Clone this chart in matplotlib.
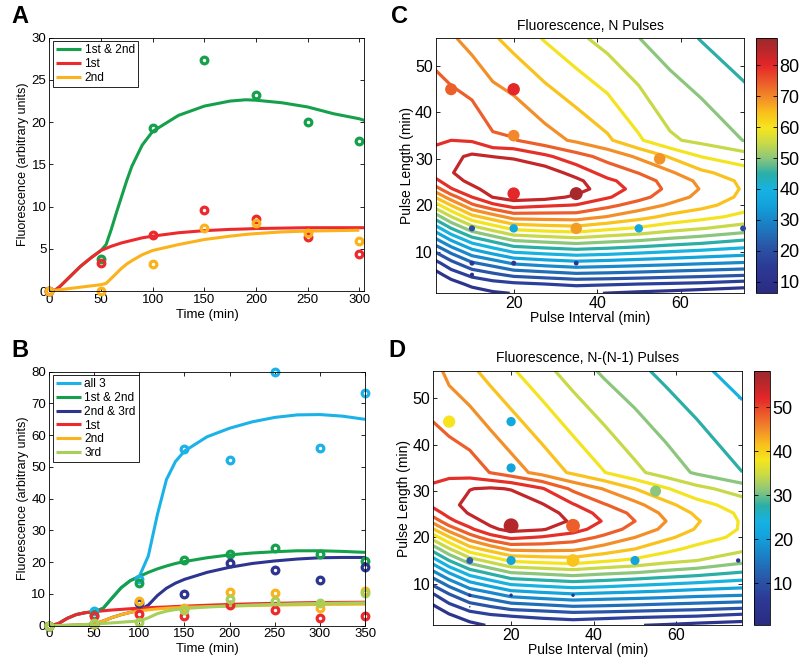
import numpy as np
import matplotlib
matplotlib.use('Agg')
import matplotlib.pyplot as plt
from matplotlib.colors import LinearSegmentedColormap, Normalize
from matplotlib.cm import ScalarMappable

plt.rcParams['font.family'] = ['Liberation Sans', 'DejaVu Sans']

# ---------------- panel A : two pulses ----------------
t_pts_a = [0, 50, 100, 150, 200, 250, 300]
a_both_pts = [0, 3.8, 19.35, 27.4, 23.2, 20.05, 17.8]
a_first_pts = [0, 3.3, 6.6, 9.6, 8.55, 6.35, 4.4]
a_second_pts = [0, 0, 3.15, 7.5, 8.05, 6.9, 5.95]

t_fit_a = [0, 5, 10, 20, 30, 40, 50, 55, 60, 65, 70, 75, 80, 90, 100,
           125, 150, 175, 190, 200, 225, 250, 275, 300, 305]
a_both_fit = [0, 0.05, 0.5, 1.7, 2.9, 3.9, 4.8, 5.5, 7.3, 9.3, 11.2, 13.1, 14.8, 17.3, 18.9,
              20.8, 21.9, 22.5, 22.65, 22.6, 22.3, 21.8, 21.0, 20.4, 20.2]
a_first_fit = [0, 0.05, 0.5, 1.7, 2.9, 3.9, 4.8, 5.05, 5.3, 5.5, 5.7, 5.85, 6.0, 6.3, 6.5,
               6.9, 7.15, 7.3, 7.35, 7.4, 7.45, 7.5, 7.5, 7.5, 7.5]
a_second_fit = [0, 0.07, 0.15, 0.3, 0.45, 0.6, 0.75, 0.9, 1.5, 2.1, 2.7, 3.2, 3.6, 4.3, 4.8,
                5.5, 6.1, 6.5, 6.7, 6.8, 7.0, 7.1, 7.15, 7.2, np.nan]

# ---------------- panel B : three pulses ----------------
t_pts_b = [0, 50, 100, 150, 200, 250, 300, 350]
b_all3_pts = [0, 4.7, 14.8, 55.5, 52.2, 80, 56, 73.4]
b_12_pts = [0, 3.5, 13.5, 20.7, 22.5, 24.4, 22.6, 20.4]
b_23_pts = [0, 0.5, 7.0, 10.0, 19.6, 17.4, 14.3, 18.6]
b_1_pts = [0, 3.1, 3.7, 3.1, 6.5, 4.9, 2.3, 3.1]
b_2_pts = [0, 0.5, 7.8, 5.5, 10.7, 10.4, 5.5, 11.0]
b_3_pts = [0, 0.7, 1.3, 5.1, 8.3, 7.9, 7.3, 10.2]

t_fit_b = [0, 10, 20, 30, 40, 50, 60, 70, 80, 90, 100, 110, 120, 130, 140, 150,
           175, 200, 225, 250, 275, 300, 325, 350]
b_all3_fit = [0, 0.6, 2.3, 3.5, 4.1, 4.4, 5.5, 8.8, 12.0, 14.2, 15.5, 22, 35, 46, 51.7, 55,
              59.5, 62.2, 64.2, 65.6, 66.4, 66.5, 66, 65]
b_12_fit = [0, 0.6, 2.3, 3.5, 4.1, 4.4, 5.5, 8.8, 12.0, 14.2, 15.5, 16.8, 17.9, 18.8, 19.6, 20.2,
            21.4, 22.3, 22.9, 23.3, 23.6, 23.6, 23.4, 23.1]
b_23_fit = [0, 0.05, 0.1, 0.2, 0.35, 0.5, 1.5, 2.6, 3.5, 4.2, 4.9, 6.5, 9.5, 11.8, 13.4, 14.6,
            16.8, 18.4, 19.6, 20.4, 21.0, 21.4, 21.5, 21.5]
b_1_fit = [0, 0.6, 2.3, 3.5, 4.1, 4.4, 4.7, 4.95, 5.15, 5.35, 5.5, 5.65, 5.8, 5.9, 6.05, 6.15,
           6.45, 6.7, 6.9, 7.05, 7.2, 7.3, 7.35, 7.4]
b_2_fit = [0, 0.05, 0.1, 0.2, 0.35, 0.5, 1.5, 2.6, 3.5, 4.2, 4.7, 5.0, 5.3, 5.5, 5.65, 5.8,
           6.0, 6.2, 6.35, 6.5, 6.6, 6.7, 6.75, 6.8]
b_3_fit = [0, 0.05, 0.1, 0.2, 0.35, 0.5, 0.7, 0.9, 1.1, 1.3, 1.5, 2.5, 3.8, 4.6, 5.1, 5.4,
           5.9, 6.2, 6.5, 6.7, 6.9, 7.0, 7.1, 7.2]

# ---------------- panels C, D : model surfaces ----------------
grid_x = [1, 5, 10, 15, 20, 27.5, 35, 42.5, 50, 57.5, 65, 76]
grid_y = [1, 3, 5, 7.5, 10, 12.5, 15, 17.5, 20, 21.75, 23.5, 25.25, 27, 30.5, 34, 56]

fluo_n = [
    [6.5, 7.5, 8.5, 10.5, 11.3, 12, 12, 11, 10.2, 9.5, 8.5, 7.5],
    [7.5, 9, 12.5, 14, 15, 16, 16.9, 16.5, 16, 15.5, 15, 13.5],
    [9, 13.3, 17.2, 19.7, 22.1, 23.3, 24.6, 24.2, 23.6, 22.9, 22.3, 21.3],
    [14.1, 19.2, 25, 27.8, 31.2, 32.7, 33.8, 33.2, 32.5, 31.8, 31, 30],
    [20.9, 26.9, 33.6, 37.3, 40.8, 42.1, 43.2, 42.5, 41.4, 40.3, 39.3, 37.8],
    [29, 35.7, 42.7, 46.5, 50.4, 51.7, 52.9, 51.5, 50.4, 48.8, 47.5, 45],
    [37.5, 45, 52.5, 56.7, 60.8, 62, 62.7, 60.7, 59, 56.7, 55, 52.5],
    [46.9, 54.6, 62.9, 67.1, 71.2, 71.5, 71.7, 69.1, 66.2, 63.2, 61.2, 58],
    [57.1, 64.6, 73.3, 77.9, 81, 79.7, 78.8, 75.5, 72, 68.6, 66, 61.5],
    [64.4, 72, 79, 84, 86, 85.5, 83, 79.5, 75.8, 71.5, 68, 63],
    [71.5, 78.7, 82.6, 86, 88.6, 87.5, 85.8, 81.3, 77.3, 73, 69, 63.5],
    [77.7, 81.8, 85.2, 88, 88.7, 87.8, 85, 80, 76.5, 72.3, 68.2, 63],
    [81, 83.5, 86.5, 88.2, 88, 86.5, 82, 77, 74, 70, 65.5, 61.5],
    [81, 82.5, 84.8, 83.8, 83.1, 80, 76, 72.5, 68.5, 64, 59.5, 56.7],
    [78, 79, 78.5, 75, 74.5, 71.3, 68.5, 65.3, 60.3, 55.5, 53.5, 49.5],
    [72.5, 70, 67.5, 65.1, 62.7, 59.2, 55.9, 52.9, 50, 47.4, 44.8, 41.4],
]

fluo_diff = [
    [1.5, 2.2, 2.8, 4.2, 4.7, 5.2, 5.2, 4.5, 4.0, 3.5, 2.8, 2.2],
    [2.2, 3.2, 5.6, 6.6, 7.3, 7.9, 8.6, 8.3, 7.9, 7.6, 7.3, 6.2],
    [3.2, 6.1, 8.8, 10.5, 12.1, 12.9, 13.8, 13.5, 13.1, 12.6, 12.2, 11.5],
    [6.6, 10.1, 14.1, 16.0, 18.3, 19.3, 20.1, 19.6, 19.2, 18.7, 18.1, 17.5],
    [11.3, 15.4, 19.9, 22.4, 24.8, 25.7, 26.5, 26.0, 25.2, 24.5, 23.8, 22.8],
    [16.8, 21.3, 26.1, 28.7, 31.4, 32.2, 33.1, 32.1, 31.4, 30.3, 29.4, 27.7],
    [22.6, 27.7, 32.8, 35.6, 38.4, 39.2, 39.7, 38.4, 37.2, 35.6, 34.5, 32.1],
    [29.0, 34.2, 39.9, 42.7, 45.5, 45.7, 45.4, 43.3, 41.3, 38.9, 36.9, 35.2],
    [35.9, 41.0, 46.4, 50.1, 52.2, 51.2, 49.8, 47.4, 44.7, 42.0, 39.6, 36.9],
    [40.9, 46.1, 50.8, 54.2, 55.9, 55.2, 52.9, 49.8, 46.9, 43.9, 41.0, 37.5],
    [45.7, 50.6, 53.5, 55.9, 57.6, 56.9, 54.4, 51.2, 48.1, 44.7, 41.6, 37.5],
    [49.9, 52.7, 55.2, 57.1, 57.8, 56.6, 53.5, 50.3, 47.3, 43.9, 40.7, 37.2],
    [52.2, 53.9, 55.9, 57.3, 57.3, 55.2, 51.8, 48.4, 45.7, 42.3, 39.2, 36.2],
    [52.2, 53.2, 54.8, 55.3, 54.7, 51.8, 47.4, 44.5, 41.3, 38.2, 35.5, 32.8],
    [50.1, 50.5, 49.8, 48.0, 46.2, 43.5, 40.7, 38.0, 35.3, 32.9, 30.6, 27.7],
    [46.1, 43.7, 42.0, 40.1, 38.3, 35.6, 32.9, 30.5, 28.6, 26.7, 25.0, 22.9],
]

# measured experiments
exp_interval = [5, 20, 20, 55, 20, 35, 10, 20, 35, 50, 75, 10, 20, 35, 10]
exp_length = [45, 45, 35, 30, 22.5, 22.5, 15, 15, 15, 15, 15, 7.5, 7.5, 7.5, 5]
exp_fluo_n = [74, 80, 70, 69, 80, 87, 20, 37, 68, 37, 18, 13, 13, 12, 9]
exp_fluo_diff = [38, 22, 21, 31, 56, 48, 12, 21, 41, 21, 5, 3, 3, 3, 0.6]

cbar_range_n = (6.3, 88.7)
cbar_range_diff = (0.45, 58.3)

# ---------------- styles ----------------
c_green = '#15a04b'
c_red = '#ec2a2e'
c_orange = '#fbb21b'
c_cyan = '#1cb2e8'
c_navy = '#2e3591'
c_lgreen = '#a6cf5b'

jet_print = LinearSegmentedColormap.from_list('jet_print', [
    (0.00, '#2b2b82'), (0.10, '#2c3a95'), (0.18, '#2a55a6'), (0.27, '#1b7ec4'),
    (0.35, '#13a3dc'), (0.41, '#16b2e2'), (0.47, '#2aaea6'), (0.53, '#8cc67c'),
    (0.59, '#c9da46'), (0.65, '#f6e51e'), (0.71, '#f9bf1c'), (0.77, '#f28a2a'),
    (0.83, '#eb5a2a'), (0.895, '#e42629'), (0.955, '#b8272a'), (1.00, '#9a2a2d')])

fig = plt.figure(figsize=(8, 6.69), dpi=100)


def style_axes(ax, size):
    ax.tick_params(direction='in', top=True, right=True, length=3, width=0.6,
                   labelsize=size, pad=2)
    for s in ax.spines.values():
        s.set_linewidth(0.6)


def time_panel(ax, t_fit, fits, t_pts, pts, colors, labels, xmax, ymax, ystep):
    for f, c, lab in zip(fits, colors, labels):
        ax.plot(t_fit, f, color=c, lw=2.2, label=lab, solid_capstyle='butt')
    for p, c in zip(pts, colors):
        ax.plot(t_pts, p, 'o', ls='none', mfc='none', mec=c, mew=2.3, ms=4.8, clip_on=False)
    ax.set_xlim(0, xmax)
    ax.set_ylim(0, ymax)
    ax.set_xticks(np.arange(0, xmax + 1, 50))
    ax.set_yticks(np.arange(0, ymax + 1, ystep))
    ax.set_xlabel('Time (min)', fontsize=9.5, labelpad=2)
    ax.set_ylabel('Fluorescence (arbitrary units)', fontsize=9, labelpad=2)
    style_axes(ax, 9.5)
    leg = ax.legend(loc='upper left', fontsize=8.6, handlelength=2.1, handletextpad=0.3,
                    labelspacing=0.15, borderaxespad=0.3, borderpad=0.25,
                    fancybox=False, framealpha=1)
    leg.get_frame().set_edgecolor('black')
    leg.get_frame().set_linewidth(0.6)


axA = fig.add_axes([0.0616, 0.565, 0.394, 0.3786])
time_panel(axA, t_fit_a, [a_both_fit, a_first_fit, a_second_fit], t_pts_a,
           [a_both_pts, a_first_pts, a_second_pts], [c_green, c_red, c_orange],
           ['1st & 2nd', '1st', '2nd'], 305, 30, 5)

axB = fig.add_axes([0.0613, 0.0647, 0.395, 0.3797])
time_panel(axB, t_fit_b, [b_all3_fit, b_12_fit, b_23_fit, b_1_fit, b_2_fit, b_3_fit], t_pts_b,
           [b_all3_pts, b_12_pts, b_23_pts, b_1_pts, b_2_pts, b_3_pts],
           [c_cyan, c_green, c_navy, c_red, c_orange, c_lgreen],
           ['all 3', '1st & 2nd', '2nd & 3rd', '1st', '2nd', '3rd'], 350, 80, 10)


def surface_panel(ax, cax, z, vals, crange, scale, title, xlim, cticks):
    gx, gy = np.meshgrid(grid_x, grid_y)
    norm = Normalize(vmin=crange[0], vmax=crange[1])
    levels = np.linspace(crange[0], crange[1], 18)[1:-1]
    ax.contour(gx, gy, np.array(z), levels=levels, cmap=jet_print, norm=norm, linewidths=2.3)
    ax.scatter(exp_interval, exp_length, s=np.array(vals) * scale, c=vals, cmap=jet_print,
               norm=norm, edgecolors='none', zorder=3, clip_on=False)
    ax.set_xlim(*xlim)
    ax.set_ylim(1, 56)
    ax.set_xticks([20, 40, 60])
    ax.set_yticks([10, 20, 30, 40, 50])
    ax.set_xlabel('Pulse Interval (min)', fontsize=10, labelpad=0)
    ax.set_ylabel('Pulse Length (min)', fontsize=10, labelpad=1)
    ax.set_title(title, fontsize=10, pad=6)
    style_axes(ax, 11.5)
    cb = fig.colorbar(ScalarMappable(norm=norm, cmap=jet_print), cax=cax, ticks=cticks)
    cb.outline.set_linewidth(0.6)
    cax.tick_params(direction='in', left=True, right=True, length=3, width=0.6,
                    labelsize=13, pad=2)


axC = fig.add_axes([0.5446, 0.5616, 0.3858, 0.3812])
caxC = fig.add_axes([0.945, 0.5616, 0.0259, 0.3812])
surface_panel(axC, caxC, fluo_n, exp_fluo_n, cbar_range_n, 1.0, 'Fluorescence, N Pulses',
              (1.3, 75.3), [10, 20, 30, 40, 50, 60, 70, 80])

axD = fig.add_axes([0.5413, 0.0653, 0.3866, 0.3806])
caxD = fig.add_axes([0.9425, 0.0653, 0.02, 0.3806])
surface_panel(axD, caxD, fluo_diff, exp_fluo_diff, cbar_range_diff, 2.05,
              'Fluorescence, N-(N-1) Pulses', (1.1, 76), [10, 20, 30, 40, 50])

for lab, x, y in [('A', 0.014, 0.992), ('B', 0.014, 0.493), ('C', 0.489, 0.992), ('D', 0.486, 0.493)]:
    fig.text(x, y, lab, fontsize=17, fontweight='bold', va='top', ha='left')

fig.savefig('out.png', dpi=100, facecolor='white')
